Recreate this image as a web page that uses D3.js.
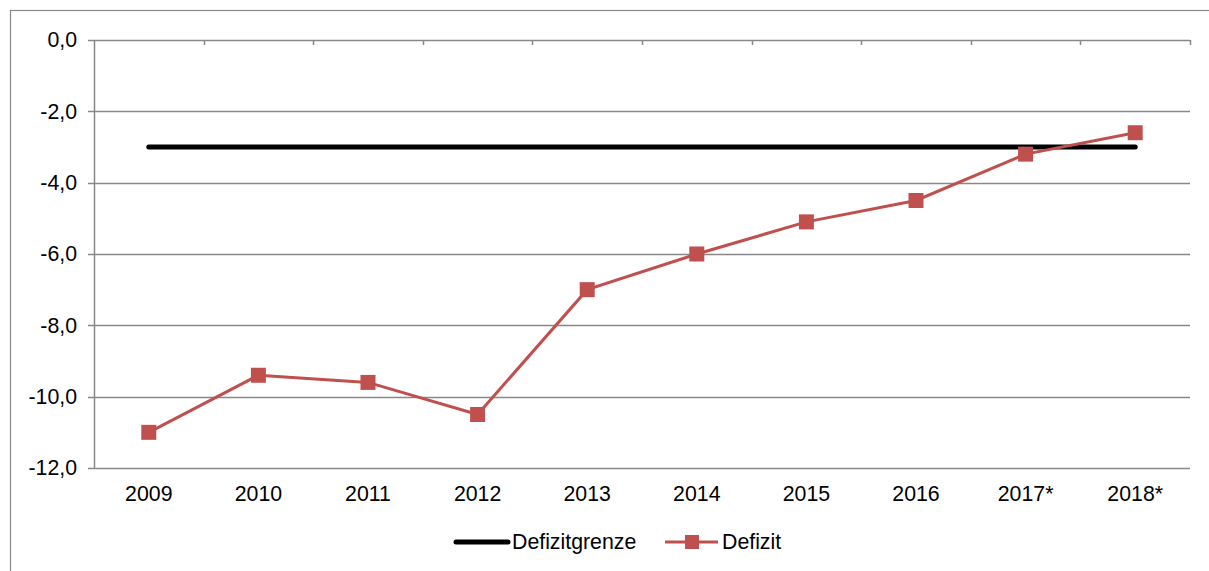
<!DOCTYPE html>
<html>
<head>
<meta charset="utf-8">
<script src="https://cdn.jsdelivr.net/npm/d3@7/dist/d3.min.js"></script>
<style>
  body { margin: 0; background: #fff; }
  text { font-family: "Liberation Sans", Arial, sans-serif; fill: #000; }
</style>
</head>
<body>
<div id="main"></div>
<script>
var years = ['2009', '2010', '2011', '2012', '2013', '2014', '2015', '2016', '2017*', '2018*'];
var defizit = [-11.0, -9.4, -9.6, -10.5, -7.0, -6.0, -5.1, -4.5, -3.2, -2.6];
var grenze = [-3, -3, -3, -3, -3, -3, -3, -3, -3, -3];
var yTicks = [0, -2, -4, -6, -8, -10, -12];

var W = 1209, H = 571;
var margins = { top: 40, left: 94, right: 19, bottom: 103 };
var width = W - margins.left - margins.right, height = H - margins.top - margins.bottom;
var fontSize = 21.3;
var gray = '#888';

var svg = d3.select('#main').append('svg')
    .attr('width', W).attr('height', H);

// outer chart border
svg.append('rect')
    .attr('x', 10.5).attr('y', 10.5)
    .attr('width', W + 10).attr('height', H + 10)
    .style('fill', 'none').style('stroke', gray).style('stroke-width', 1.2);

var chart = svg.append('g')
    .attr('transform', 'translate(' + margins.left + ',' + margins.top + ')');

var x = d3.scaleBand().domain(years).range([0, width]);
var y = d3.scaleLinear().domain([-12, 0]).range([height, 0]);
var cx = function(d) { return x(d) + x.bandwidth() / 2; };

// gridlines
chart.selectAll('.grid').data(yTicks).enter().append('line')
    .attr('class', 'grid')
    .attr('x1', -6).attr('x2', width)
    .attr('y1', function(d) { return Math.round(y(d)) + 0.5; })
    .attr('y2', function(d) { return Math.round(y(d)) + 0.5; })
    .style('stroke', gray).style('stroke-width', 1.5);

// y axis line
chart.append('line')
    .attr('x1', 0.5).attr('x2', 0.5)
    .attr('y1', 0).attr('y2', height)
    .style('stroke', gray).style('stroke-width', 1.5);

// y labels
chart.selectAll('.ylab').data(yTicks).enter().append('text')
    .attr('class', 'ylab')
    .attr('x', -17).attr('y', function(d) { return y(d); })
    .attr('dy', '0.35em')
    .style('text-anchor', 'end')
    .style('font-size', fontSize + 'px')
    .text(function(d) { return d3.format('.1f')(d).replace('.', ',').replace('−', '-'); });

// category axis at 0 with tick marks down
var bounds = years.map(function(d) { return x(d); }).concat([width]);
chart.selectAll('.xtick').data(bounds.slice(1)).enter().append('line')
    .attr('class', 'xtick')
    .attr('x1', function(d) { return Math.round(d) + 0.5; })
    .attr('x2', function(d) { return Math.round(d) + 0.5; })
    .attr('y1', y(0)).attr('y2', y(0) + 5)
    .style('stroke', gray).style('stroke-width', 1.5);

// x labels at bottom
chart.selectAll('.xlab').data(years).enter().append('text')
    .attr('class', 'xlab')
    .attr('x', cx).attr('y', height + 33)
    .style('text-anchor', 'middle')
    .style('font-size', fontSize + 'px')
    .text(function(d) { return d; });

// Defizitgrenze
var line = d3.line()
    .x(function(d, i) { return cx(years[i]); })
    .y(function(d) { return y(d); });

chart.append('path').datum(grenze)
    .attr('d', line)
    .style('fill', 'none').style('stroke', '#000')
    .style('stroke-width', 5).style('stroke-linecap', 'round');

// Defizit
chart.append('path').datum(defizit)
    .attr('d', line)
    .style('fill', 'none').style('stroke', '#C0504D')
    .style('stroke-width', 3);

var ms = 15;
chart.selectAll('.point').data(defizit).enter().append('rect')
    .attr('class', 'point')
    .attr('x', function(d, i) { return cx(years[i]) - ms / 2; })
    .attr('y', function(d) { return y(d) - ms / 2; })
    .attr('width', ms).attr('height', ms)
    .style('fill', '#C0504D');

// legend
var legY = 542;
var leg = svg.append('g');
leg.append('line')
    .attr('x1', 456).attr('x2', 508).attr('y1', legY).attr('y2', legY)
    .style('stroke', '#000').style('stroke-width', 5).style('stroke-linecap', 'round');
leg.append('text')
    .attr('x', 512).attr('y', legY).attr('dy', '0.35em')
    .style('font-size', fontSize + 'px')
    .text('Defizitgrenze');
leg.append('line')
    .attr('x1', 665).attr('x2', 718).attr('y1', legY).attr('y2', legY)
    .style('stroke', '#C0504D').style('stroke-width', 3);
leg.append('rect')
    .attr('x', 692 - 7).attr('y', legY - 7).attr('width', 14).attr('height', 14)
    .style('fill', '#C0504D');
leg.append('text')
    .attr('x', 722).attr('y', legY).attr('dy', '0.35em')
    .style('font-size', fontSize + 'px')
    .text('Defizit');
</script>
</body>
</html>
